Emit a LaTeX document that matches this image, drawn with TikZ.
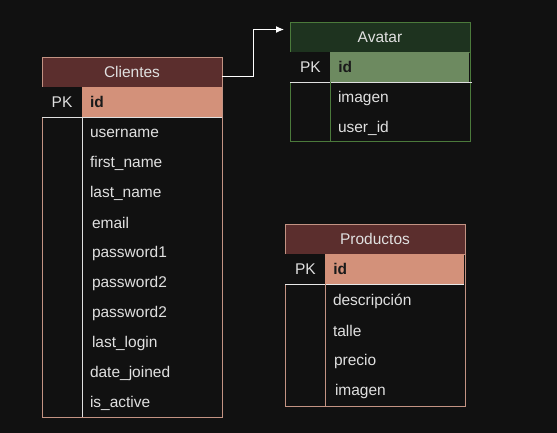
\documentclass[tikz,border=0pt]{standalone}
\usepackage{fontspec}
\setmainfont{Liberation Sans}
\usetikzlibrary{positioning,arrows.meta}
\definecolor{bg}{HTML}{111111}
\definecolor{txt}{HTML}{E0E0E0}
\definecolor{keytxt}{HTML}{1A1A1A}
\definecolor{redhead}{HTML}{5B2E2D}
\definecolor{redbd}{HTML}{C39383}
\definecolor{redkey}{HTML}{D3917A}
\definecolor{grnhead}{HTML}{1E331F}
\definecolor{grnbd}{HTML}{4B7A3B}
\definecolor{grnkey}{HTML}{6D8A60}

\begin{document}
\begin{tikzpicture}[x=1pt,y=-1pt,every node/.style={outer sep=0pt,inner sep=0pt},
 tbl/.style={draw=#1,line width=0.8pt,fill=bg,minimum width=180pt,anchor=north west},
 tblhead/.style={draw=#1,line width=0.8pt,minimum width=180pt,minimum height=30pt,
  anchor=north west,text=txt,font=\fontsize{15.5}{18}\selectfont},
 pkcell/.style={fill=bg,minimum width=40pt,minimum height=30pt,anchor=north west,
  text=txt,font=\fontsize{15.5}{18}\selectfont},
 keycell/.style={fill=#1,minimum height=30pt,text width=124pt,inner xsep=8pt,align=left,
  text=keytxt,font=\fontsize{15.5}{18}\selectfont\bfseries},
 field/.style={anchor=west,text=txt,font=\fontsize{15.5}{18}\selectfont},
 rule/.style={draw=txt,line width=0.8pt}]

  \fill[bg] (0,0) rectangle (557,433);
  \useasboundingbox (0,0) rectangle (557,433);

  % Clientes
  \node[tbl=redbd,minimum height=360pt] (cli) at (42,57) {};
  \node[tblhead=redbd,fill=redhead] (cli-head) at (cli.north west) {Clientes};
  \node[pkcell] (cli-pk) at (cli-head.south west) {PK};
  \node[keycell=redkey,right=0pt of cli-pk] (cli-id) {id};
  \draw[rule] (cli-pk.south west) -- (cli-id.south east);
  \draw[rule] (cli-pk.south east) -- (cli-pk.south east |- cli.south);
  \foreach \x/\t [count=\i] in {90/username,90/first\_name,90/last\_name,92/email,
   92/password1,92/password2,92/password2,92/last\_login,90/date\_joined,90/is\_active}
   \node[field] (cli-f\i) at (\x,103+30*\i) {\t};

  % Avatar
  \node[tbl=grnbd,minimum height=119pt] (av) at (290,22) {};
  \node[tblhead=grnbd,fill=grnhead] (av-head) at (av.north west) {Avatar};
  \node[pkcell] (av-pk) at ([shift={(0.4pt,0)}]av-head.south west) {PK};
  \node[keycell=grnkey,right=0pt of av-pk,text width=123pt] (av-id) {id};
  \draw[rule] (av-pk.south west) -- ++(182,0) coordinate (av-end);
  \draw[grnbd,line width=0.8pt] (av-pk.south east) -- (av-pk.south east |- av.south);
  \node[field] (av-f1) at (338,98) {imagen};
  \node[field] (av-f2) at (338,128) {user\_id};

  % Productos
  \node[tbl=redbd,minimum height=182pt] (prod) at (285,224) {};
  \node[tblhead=redbd,fill=redhead] (prod-head) at (prod.north west) {Productos};
  \node[pkcell] (prod-pk) at ([shift={(0.4pt,0)}]prod-head.south west) {PK};
  \node[keycell=redkey,right=0pt of prod-pk,text width=123pt] (prod-id) {id};
  \draw[draw=txt!70,line width=0.8pt] (prod-pk.south west) -- (prod-id.south east);
  \draw[redbd,line width=0.8pt] (prod-pk.south east) -- (prod-pk.south east |- prod.south);
  \foreach \x/\t [count=\i] in {333/descripción,333/talle,334/precio,335/imagen}
   \node[field] (prod-f\i) at (\x,271+30*\i) {\t};

  % link
  \draw[white,line width=1pt,-{Latex[length=8pt,width=7pt]}] ([yshift=-5pt]cli-head.east)
   -- ++(31,0) |- ([xshift=-6pt,yshift=7.5pt]av-head.west) coordinate (av-in);
\end{tikzpicture}
\end{document}
